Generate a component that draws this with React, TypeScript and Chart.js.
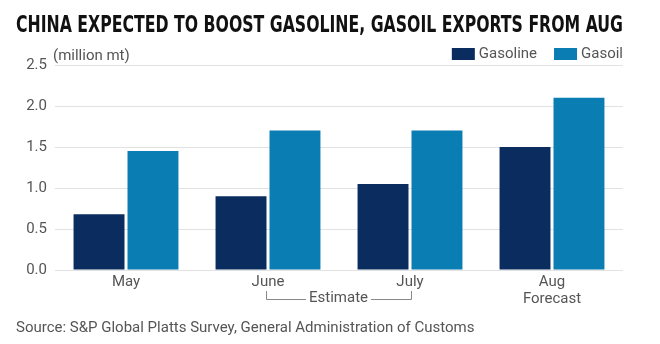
import React, { useEffect, useRef } from "react";
import { Chart, registerables } from "chart.js";

Chart.register(...registerables);

const categories: (string | string[])[] = ["May", "June", "July", ["Aug", "Forecast"]];
const gasoline = [0.68, 0.9, 1.05, 1.5];
const gasoil = [1.45, 1.7, 1.7, 2.1];
const yTicks = [0, 0.5, 1.0, 1.5, 2.0, 2.5];
const titleText = "CHINA EXPECTED TO BOOST GASOLINE, GASOIL EXPORTS FROM AUG";
const unitText = "(million mt)";
const estimateText = "Estimate";
const sourceText = "Source: S&P Global Platts Survey, General Administration of Customs";

const FONT = "Roboto, 'Noto Sans', sans-serif";
const TITLE_FONT = "'Liberation Sans Narrow', 'DejaVu Sans Condensed', sans-serif";
const GRAY = "#555";

const extras = {
  id: "extras",
  afterDraw(chart: any) {
    const { ctx, chartArea, scales } = chart;
    ctx.save();

    // Unit
    ctx.font = `15px ${FONT}`;
    ctx.fillStyle = GRAY;
    ctx.textBaseline = "middle";
    ctx.textAlign = "left";
    ctx.fillText(unitText, chartArea.left - 2, 56);

    // Legend (right aligned to chart area)
    const ds = chart.data.datasets;
    let right = chartArea.right;
    for (let i = ds.length - 1; i >= 0; i--) {
      const w = ctx.measureText(ds[i].label).width;
      const tx = right - w;
      ctx.fillStyle = GRAY;
      ctx.textAlign = "left";
      ctx.fillText(ds[i].label, tx, 54);
      const bx = tx - 4 - 23;
      ctx.fillStyle = ds[i].backgroundColor;
      ctx.fillRect(bx, 48, 23, 12);
      right = bx - 17;
    }

    // Estimate bracket under June and July
    const x1 = Math.round(scales.x.getPixelForValue(1)) - 2;
    const x2 = Math.round(scales.x.getPixelForValue(2)) + 1;
    const yTop = chartArea.bottom + 21;
    const yLine = chartArea.bottom + 29;
    const mid = (x1 + x2) / 2;
    const tw = ctx.measureText(estimateText).width;
    ctx.strokeStyle = "#888";
    ctx.lineWidth = 1;
    ctx.beginPath();
    ctx.moveTo(x1 + 0.5, yTop);
    ctx.lineTo(x1 + 0.5, yLine + 0.5);
    ctx.lineTo(mid - tw / 2 - 3, yLine + 0.5);
    ctx.moveTo(mid + tw / 2 + 3, yLine + 0.5);
    ctx.lineTo(x2 + 0.5, yLine + 0.5);
    ctx.lineTo(x2 + 0.5, yTop);
    ctx.stroke();
    ctx.fillStyle = GRAY;
    ctx.textAlign = "center";
    ctx.fillText(estimateText, mid, yLine - 1);

    // Source
    ctx.textAlign = "left";
    ctx.fillText(sourceText, 16, 328);
    ctx.restore();
  },
};

export default function App() {
  const ref = useRef<HTMLCanvasElement>(null);
  useEffect(() => {
    document.body.style.margin = "0";
    const warm = ref.current!.getContext("2d")!;
    warm.font = `bold 23.4px ${TITLE_FONT}`;
    warm.measureText(titleText);
    const chart = new Chart(ref.current!, {
      type: "bar",
      data: {
        labels: categories,
        datasets: [
          { label: "Gasoline", data: gasoline, backgroundColor: "#0b2c5f" },
          { label: "Gasoil", data: gasoil, backgroundColor: "#0a7db3" },
        ],
      },
      options: {
        responsive: false,
        animation: false,
        layout: { padding: { left: 16, right: 37, top: 0, bottom: 33 } },
        categoryPercentage: 0.76,
        barPercentage: 0.944,
        plugins: {
          title: {
            display: true,
            text: titleText,
            align: "start",
            color: "#111",
            font: { family: TITLE_FONT, weight: "bold", size: 23.4, lineHeight: 1.2 },
            padding: { top: 12, bottom: 24.92 },
          },
          legend: { display: false },
          tooltip: { enabled: false },
        },
        scales: {
          x: {
            grid: { display: false, drawTicks: false },
            border: { display: false },
            ticks: { color: GRAY, font: { family: FONT, size: 15, lineHeight: 1.1 }, padding: 4 },
          },
          y: {
            min: 0,
            max: 2.5,
            afterFit: (s: any) => { s.width = 39; },
            afterBuildTicks: (s: any) => { s.ticks = yTicks.map((v) => ({ value: v })); },
            grid: { color: "#e2e2e2", drawTicks: false },
            border: { display: false },
            ticks: {
              color: GRAY,
              padding: 8,
              font: { family: FONT, size: 15 },
              callback: (v: any) => Number(v).toFixed(1),
            },
          },
        },
      } as any,
      plugins: [extras],
    });
    return () => { chart.destroy(); };
  }, []);
  return <canvas ref={ref} width={660} height={344} style={{ display: "block" }} />;
}
